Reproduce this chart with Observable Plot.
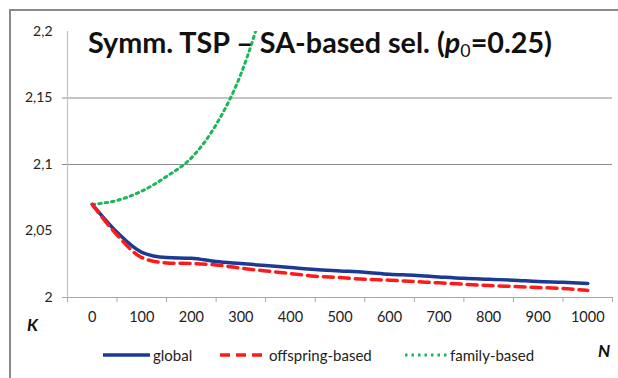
<!DOCTYPE html>
<html>
<head>
<meta charset="utf-8">
<script src="https://cdn.jsdelivr.net/npm/d3@7"></script>
<script src="https://cdn.jsdelivr.net/npm/@observablehq/plot@0.6"></script>
<style>
  html, body { margin: 0; padding: 0; background: #fff; }
  #wrap { position: relative; width: 618px; height: 378px; overflow: hidden; font-family: Lato, "Open Sans", sans-serif; }
  #frame { position: absolute; left: 9px; top: 9px; width: 700px; height: 500px; border: 2px solid #8a8a8a; box-sizing: border-box; }
  #chart { position: absolute; left: 0; top: 0; }
  #title { position: absolute; left: 88px; top: 25px; font-weight: 700; font-size: 28px; color: #111; white-space: nowrap; transform-origin: 0 0; }
  #title sub { font-size: 0.62em; vertical-align: -0.25em; font-weight: 400; }
  .axlab { position: absolute; font-weight: 700; font-style: italic; font-size: 17px; color: #111; }
  #legend { position: absolute; top: 344px; left: 0; width: 618px; height: 22px; font-size: 15px; color: #222; }
  .item { position: absolute; top: 0; display: flex; align-items: center; height: 22px; }
  .item svg { margin-right: 3px; }
</style>
</head>
<body>
<div id="wrap">
  <div id="frame"></div>
  <div id="chart"></div>
  <div id="title">Symm. TSP – SA-based sel. (<i>p</i><sub>0</sub>=0.25)</div>
  <div class="axlab" style="left:27px; top:314px;">K</div>
  <div class="axlab" style="left:598px; top:340px;">N</div>
  <div id="legend"></div>
</div>
<script>
// Data
const N = [0, 50, 100, 150, 200, 250, 300, 350, 400, 450, 500, 550, 600, 650, 700, 750, 800, 850, 900, 950, 1000];
const globalK = [2.070, 2.049, 2.034, 2.030, 2.0295, 2.027, 2.0255, 2.024, 2.0225, 2.021, 2.020, 2.019, 2.0175, 2.0167, 2.0155, 2.0144, 2.0137, 2.013, 2.012, 2.0114, 2.0106];
const offspringK = [2.070, 2.047, 2.030, 2.026, 2.0255, 2.0245, 2.022, 2.020, 2.018, 2.016, 2.015, 2.0137, 2.013, 2.012, 2.011, 2.010, 2.009, 2.0083, 2.0075, 2.0068, 2.0053];
const familyN = [0, 50, 100, 150, 200, 250, 300, 350];
const familyK = [2.070, 2.073, 2.080, 2.091, 2.105, 2.130, 2.168, 2.225];
const xTickLabels = [0, 100, 200, 300, 400, 500, 600, 700, 800, 900, 1000];
const yTickLabels = [2, 2.05, 2.1, 2.15, 2.2];
const gridValues = [2.1, 2.15];
const seriesNames = ["global", "offspring-based", "family-based"];
const seriesColors = ["#1b3a93", "#ff1a1a", "#1fb65a"];

const globalData = N.map((n, i) => ({N: n, K: globalK[i]}));
const offData = N.map((n, i) => ({N: n, K: offspringK[i]}));
const famData = familyN.map((n, i) => ({N: n, K: familyK[i]}));
const boundaries = xTickLabels.map(v => v - 50).concat([xTickLabels[xTickLabels.length - 1] + 50]);

const plot = Plot.plot({
  width: 618,
  height: 378,
  marginLeft: 67,
  marginRight: 6,
  marginTop: 31,
  marginBottom: 81,
  style: {fontFamily: "Lato, 'Open Sans', sans-serif", fontSize: "14px", color: "#222", background: "transparent"},
  x: {domain: [-50, 1050]},
  y: {domain: [2, 2.2]},
  marks: [
    Plot.ruleY(gridValues, {stroke: "#8c8c8c", strokeWidth: 1, insetLeft: -5}),
    Plot.ruleX([-50], {stroke: "#c4c4c4", strokeWidth: 1.2}),
    Plot.ruleY([2], {stroke: "#a8a8a8", strokeWidth: 1.2, insetLeft: -5}),
    Plot.axisX({ticks: boundaries, tickFormat: () => "", tickSize: 5, stroke: "#a8a8a8", label: null}),
    Plot.axisX({ticks: xTickLabels, tickSize: 0, tickPadding: 14, tickFormat: d => String(d), label: null, fontSize: 14.5, fill: "#222"}),
    Plot.axisY({ticks: yTickLabels, tickSize: 0, tickPadding: 15, tickFormat: d => String(d).replace(".", ","), label: null, fontSize: 14, fill: "#222"}),
    Plot.line(famData, {x: "N", y: "K", stroke: seriesColors[2], strokeWidth: 3, strokeDasharray: "2.5,4", curve: "monotone-x", clip: true}),
    Plot.line(globalData, {x: "N", y: "K", stroke: seriesColors[0], strokeWidth: 3.5, curve: "monotone-x"}),
    Plot.line(offData, {x: "N", y: "K", stroke: seriesColors[1], strokeWidth: 3.5, strokeDasharray: "10,6", curve: "monotone-x"})
  ]
});
document.getElementById("chart").appendChild(plot);

// title fit to reference width
const t = document.getElementById("title");
const w = t.getBoundingClientRect().width;
t.style.transform = `scaleX(${464 / w})`;

// legend
const legend = document.getElementById("legend");
const positions = [[103, 47], [220, 46], [405, 42]];
const dashes = [null, "10,6", "2.5,4"];
seriesNames.forEach((name, i) => {
  const item = document.createElement("div");
  item.className = "item";
  item.style.left = positions[i][0] + "px";
  const sw = positions[i][1];
  item.innerHTML = `<svg width="${sw}" height="10"><line x1="0" x2="${sw}" y1="5" y2="5" stroke="${seriesColors[i]}" stroke-width="${i === 2 ? 3 : 3.5}" ${dashes[i] ? `stroke-dasharray="${dashes[i]}"` : ""}/></svg><span>${name}</span>`;
  legend.appendChild(item);
});
</script>
</body>
</html>
